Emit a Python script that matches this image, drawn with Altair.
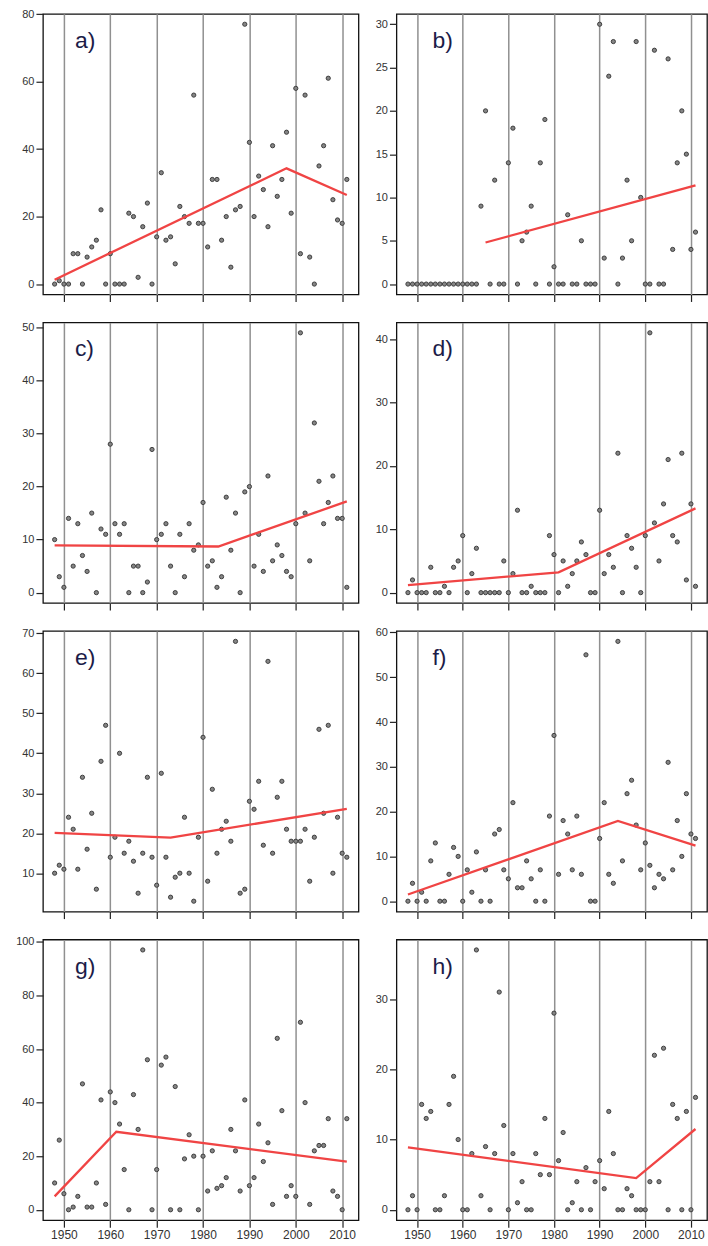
import altair as alt
import pandas as pd

# Annual counts, 1948-2011, for the eight series a)-h)
YEARS = list(range(1948, 2012))

A = [0, 1, 0, 0, 9, 9, 0, 8, 11, 13,
     22, 0, 9, 0, 0, 0, 21, 20, 2, 17,
     24, 0, 14, 33, 13, 14, 6, 23, 20, 18,
     56, 18, 18, 11, 31, 31, 13, 20, 5, 22,
     23, 77, 42, 20, 32, 28, 17, 41, 26, 31,
     45, 21, 58, 9, 56, 8, 0, 35, 41, 61,
     25, 19, 18, 31]
B = [0, 0, 0, 0, 0, 0, 0, 0, 0, 0,
     0, 0, 0, 0, 0, 0, 9, 20, 0, 12,
     0, 0, 14, 18, 0, 5, 6, 9, 0, 14,
     19, 0, 2, 0, 0, 8, 0, 0, 5, 0,
     0, 0, 30, 3, 24, 28, 0, 3, 12, 5,
     28, 10, 0, 0, 27, 0, 0, 26, 4, 14,
     20, 15, 4, 6]
C = [10, 3, 1, 14, 5, 13, 7, 4, 15, 0,
     12, 11, 28, 13, 11, 13, 0, 5, 5, 0,
     2, 27, 10, 11, 13, 5, 0, 11, 3, 13,
     8, 9, 17, 5, 6, 1, 3, 18, 8, 15,
     0, 19, 20, 5, 11, 4, 22, 6, 9, 7,
     4, 3, 13, 49, 15, 6, 32, 21, 13, 17,
     22, 14, 14, 1]
D = [0, 2, 0, 0, 0, 4, 0, 0, 1, 0,
     4, 5, 9, 0, 3, 7, 0, 0, 0, 0,
     0, 5, 0, 3, 13, 0, 0, 1, 0, 0,
     0, 9, 6, 0, 5, 1, 3, 5, 8, 6,
     0, 0, 13, 3, 6, 4, 22, 0, 9, 7,
     4, 0, 9, 41, 11, 5, 14, 21, 9, 8,
     22, 2, 14, 1]
E = [10, 12, 11, 24, 21, 11, 34, 16, 25, 6,
     38, 47, 14, 19, 40, 15, 18, 13, 5, 15,
     34, 14, 7, 35, 14, 4, 9, 10, 24, 10,
     3, 19, 44, 8, 31, 15, 21, 23, 18, 68,
     5, 6, 28, 26, 33, 17, 63, 15, 29, 33,
     21, 18, 18, 18, 21, 8, 19, 46, 25, 47,
     10, 24, 15, 14]
F = [0, 4, 0, 2, 0, 9, 13, 0, 0, 6,
     12, 10, 0, 7, 2, 11, 0, 7, 0, 15,
     16, 7, 5, 22, 3, 3, 9, 5, 0, 7,
     0, 19, 37, 6, 18, 15, 7, 19, 6, 55,
     0, 0, 14, 22, 6, 4, 58, 9, 24, 27,
     17, 7, 13, 8, 3, 6, 5, 31, 7, 18,
     10, 24, 15, 14]
G = [10, 26, 6, 0, 1, 5, 47, 1, 1, 10,
     41, 2, 44, 40, 32, 15, 0, 43, 30, 97,
     56, 0, 15, 54, 57, 0, 46, 0, 19, 28,
     20, 0, 20, 7, 22, 8, 9, 12, 30, 22,
     7, 41, 9, 12, 32, 18, 25, 2, 64, 37,
     5, 9, 5, 70, 40, 2, 22, 24, 24, 34,
     7, 5, 0, 34]
H = [0, 2, 0, 15, 13, 14, 0, 0, 2, 15,
     19, 10, 0, 0, 8, 37, 2, 9, 0, 8,
     31, 12, 0, 8, 1, 4, 0, 0, 8, 5,
     13, 5, 28, 7, 11, 0, 1, 4, 0, 6,
     0, 4, 7, 3, 14, 8, 0, 0, 3, 2,
     0, 0, 0, 4, 22, 4, 23, 0, 15, 13,
     0, 14, 0, 16]

# Piecewise-linear trend fits (breakpoint years and fitted values)
TREND_X = {
    "a": [1948, 1998, 2011],
    "b": [1965, 2011],
    "c": [1948, 1983.3, 2011],
    "d": [1948, 1981, 2011],
    "e": [1948, 1973, 2011],
    "f": [1948, 1994, 2011],
    "g": [1948, 1961.3, 2011],
    "h": [1948, 1998, 2011],
}
TREND_Y = {
    "a": [1.3, 34.3, 26.4],
    "b": [4.8, 11.4],
    "c": [8.9, 8.7, 17.2],
    "d": [1.2, 3.2, 13.3],
    "e": [20.1, 18.9, 26.1],
    "f": [1.5, 17.9, 12.4],
    "g": [5.0, 29.1, 18.0],
    "h": [8.9, 4.5, 11.5],
}

Y_TICKS = {
    "a": [0, 20, 40, 60, 80],
    "b": [0, 5, 10, 15, 20, 25, 30],
    "c": [0, 10, 20, 30, 40, 50],
    "d": [0, 10, 20, 30, 40],
    "e": [10, 20, 30, 40, 50, 60, 70],
    "f": [0, 10, 20, 30, 40, 50, 60],
    "g": [0, 20, 40, 60, 80, 100],
    "h": [0, 10, 20, 30],
}
X_TICKS = [1950, 1960, 1970, 1980, 1990, 2000, 2010]

SERIES = {"a": A, "b": B, "c": C, "d": D, "e": E, "f": F, "g": G, "h": H}

LABEL_FONT = "Liberation Sans"
TEXT_COLOR = "#333333"


def padded(lo, hi):
    # 4% extension on each side, like base-R default axes
    pad = 0.04 * (hi - lo)
    return [lo - pad, hi + pad]


def panel(key, width, bottom_row, label_x):
    vals = SERIES[key]
    pts_df = pd.DataFrame({"year": YEARS, "count": vals})
    fit_df = pd.DataFrame({"year": TREND_X[key], "count": TREND_Y[key]})

    xscale = alt.Scale(domain=padded(min(YEARS), max(YEARS)), nice=False, zero=False)
    yscale = alt.Scale(domain=padded(min(vals), max(vals)), nice=False, zero=False)

    xaxis = alt.Axis(
        values=X_TICKS, format="d", labels=bottom_row, title=None,
        grid=True, gridColor="#909090", gridWidth=1.5,
        domain=False, ticks=True, tickSize=7, tickColor="#222222", tickWidth=1.2,
        labelFont=LABEL_FONT, labelFontSize=12, labelColor=TEXT_COLOR, labelPadding=2,
    )
    yaxis = alt.Axis(
        values=Y_TICKS[key], title=None, grid=False,
        domain=False, ticks=True, tickSize=7, tickColor="#222222", tickWidth=1.2,
        labelFont=LABEL_FONT, labelFontSize=11, labelColor=TEXT_COLOR, labelPadding=2,
        minExtent=42, maxExtent=42,
    )

    pts = alt.Chart(pts_df).mark_circle(
        size=18, fill="#858585", stroke="#333333", strokeWidth=0.9, opacity=1
    ).encode(
        x=alt.X("year:Q", scale=xscale, axis=xaxis),
        y=alt.Y("count:Q", scale=yscale, axis=yaxis),
    )
    fit = alt.Chart(fit_df).mark_line(color="#f04444", strokeWidth=2.3).encode(
        x=alt.X("year:Q", scale=xscale),
        y=alt.Y("count:Q", scale=yscale),
    )
    tag = alt.Chart(pd.DataFrame({"t": [key + ")"]})).mark_text(
        align="left", baseline="middle", font=LABEL_FONT, fontSize=23, color="#1c1c48"
    ).encode(text="t:N", x=alt.value(label_x), y=alt.value(27))

    return alt.layer(pts, fit, tag).properties(width=width, height=281)


panels = []
for left, right in [("a", "b"), ("c", "d"), ("e", "f"), ("g", "h")]:
    bottom = left == "g"
    panels.append(panel(left, 316, bottom, 32))
    panels.append(panel(right, 311, bottom, 36))

chart = alt.concat(
    *panels, columns=2, spacing={"row": 28, "column": 38}, bounds="flush"
).properties(
    padding={"left": 0, "top": 6, "right": 0, "bottom": 0}
).configure_view(stroke="#111111", strokeWidth=1.3)

chart.save("out.html", embed_options={"renderer": "svg", "actions": False})
